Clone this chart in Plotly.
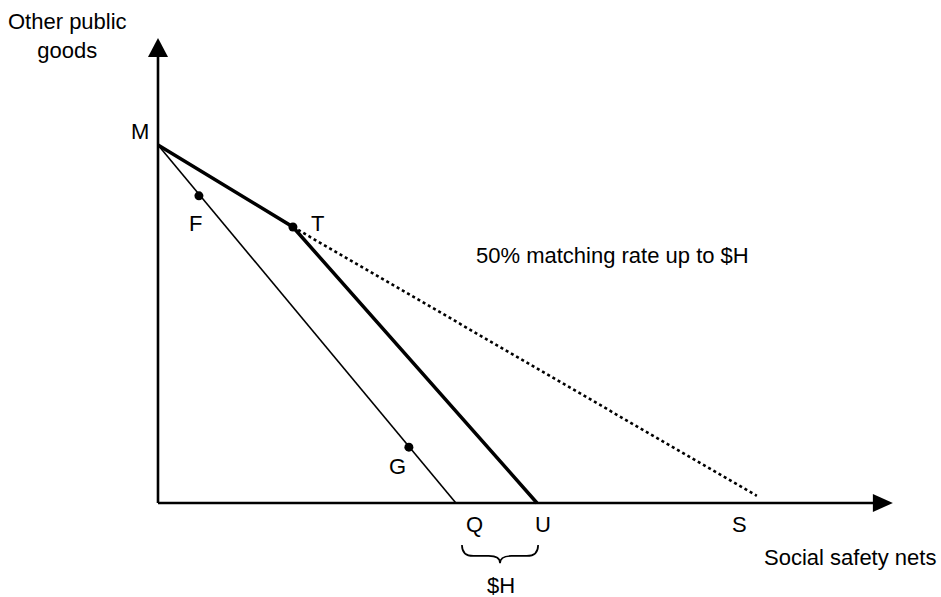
import plotly.graph_objects as go

# budget lines (x: social safety nets, y: other public goods)
thin_x = [0, 78.6]
thin_y = [100, 0]
kink_x = [0, 35.6, 100]
kink_y = [100, 77.1, 0]
dot_x = [35.6, 158.0]
dot_y = [77.1, 2.0]
pt_names = ["F", "T", "G"]
pt_x = [10.8, 35.6, 66.2]
pt_y = [85.8, 77.1, 15.6]
Q, U = 78.6, 100
x_tip, y_tip = 193.9, 129.9

fnt = dict(family="Liberation Sans, Arial", size=22, color="black")

fig = go.Figure()
fig.add_trace(go.Scatter(x=thin_x, y=thin_y, mode="lines", line=dict(color="black", width=1.6)))
fig.add_trace(go.Scatter(x=kink_x, y=kink_y, mode="lines", line=dict(color="black", width=3.5)))
fig.add_trace(go.Scatter(x=dot_x, y=dot_y, mode="lines", line=dict(color="black", width=2.6, dash="dot")))
fig.add_trace(go.Scatter(x=pt_x, y=pt_y, mode="markers", marker=dict(color="black", size=9)))

# axes with arrowheads
fig.add_shape(type="line", x0=0, y0=0, x1=0, y1=y_tip - 4, line=dict(color="black", width=2.6))
fig.add_shape(type="line", x0=0, y0=0, x1=x_tip - 4, y1=0, line=dict(color="black", width=2.6))
fig.add_shape(type="path", xsizemode="pixel", ysizemode="pixel", xanchor=0, yanchor=y_tip,
              path="M-10,-19 L10,-19 L0,0 Z", fillcolor="black", line=dict(width=0))
fig.add_shape(type="path", xsizemode="pixel", ysizemode="pixel", xanchor=x_tip, yanchor=0,
              path="M-20,-9 L-20,9 L0,0 Z", fillcolor="black", line=dict(width=0))

# brace under Q..U
bl, br = Q + 1.6, U + 0.3
bm = (bl + br) / 2
yt, ym, yb = -11.7, -14.8, -16.8
brace = (f"M{bl},{yt} Q{bl},{ym} {bl+3},{ym} L{bm-3},{ym} Q{bm},{ym} {bm},{yb} "
         f"Q{bm},{ym} {bm+3},{ym} L{br-3},{ym} Q{br},{ym} {br},{yt}")
fig.add_shape(type="path", path=brace, line=dict(color="black", width=1.7))

labels = [
    ("M", -4.75, 103.8), ("F", 9.8, 78.2), ("T", 42.2, 78.2), ("G", 63.1, 10.1),
    ("Q", 83.6, -6.1), ("U", 101.6, -6.1), ("S", 153.3, -6.1), ("$H", 90.5, -23.0),
    ("Social safety nets", 182.6, -15.1), ("50% matching rate up to $H", 119.8, 69.0),
    ("Other public<br>goods", -23.75, 130.4),
]
for txt, x, y in labels:
    fig.add_annotation(x=x, y=y, text=txt, showarrow=False, font=fnt)

fig.update_xaxes(range=[-41.69, 206.6], visible=False)
fig.update_yaxes(range=[-26.26, 140.5], visible=False)
fig.update_layout(width=941, height=597, margin=dict(l=0, r=0, t=0, b=0),
                  plot_bgcolor="white", paper_bgcolor="white", showlegend=False)
# drop the default body margin so the figure fills the window exactly
fig.write_html("out.html", config={"displayModeBar": False},
               post_script="document.body.style.margin='0';document.body.style.overflow='hidden';")
